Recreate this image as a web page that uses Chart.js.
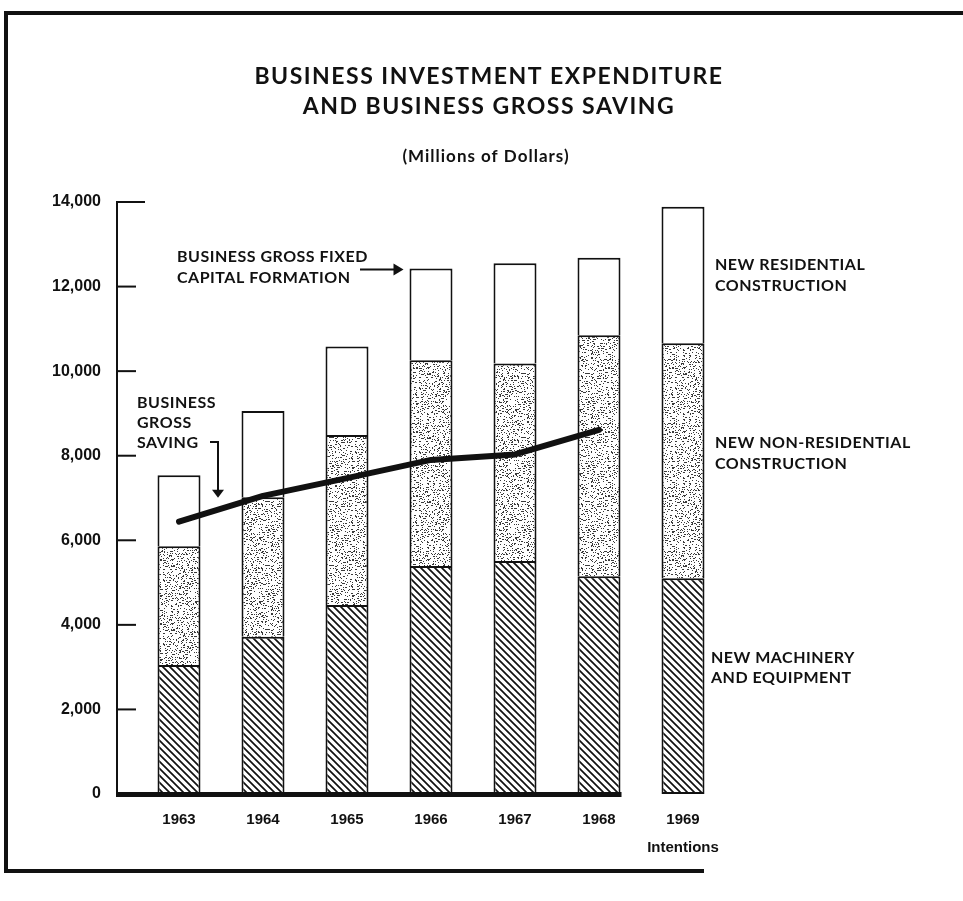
<!DOCTYPE html>
<html>
<head>
<meta charset="utf-8">
<title>Business Investment Expenditure and Business Gross Saving</title>
<script src="https://cdn.jsdelivr.net/npm/chart.js@4.4.1/dist/chart.umd.min.js"></script>
<style>
  html, body { margin: 0; padding: 0; background: #fff; }
  canvas { display: block; }
</style>
</head>
<body>
<canvas id="grafik" width="963" height="901"></canvas>
<script>
// =====================================================
// DATA (millions of dollars)
// =====================================================
const years = ["1963", "1964", "1965", "1966", "1967", "1968", ["1969", "Intentions"]];

// Stacked bar segments, bottom to top
const machineryEquipment = [3050, 3720, 4470, 5390, 5510, 5150, 5100];
const nonResidential     = [2810, 3300, 4020, 4870, 4670, 5700, 5560];
const residential        = [1680, 2040, 2090, 2170, 2370, 1830, 3230];

// Business gross saving line (no value for 1969)
const grossSaving = [6440, 7050, 7470, 7900, 8030, 8610, null];

// Y axis ticks
const yTicks = [0, 2000, 4000, 6000, 8000, 10000, 12000, 14000];

// =====================================================
// FONTS
// =====================================================
const FONT_LABEL = "Lato, 'DejaVu Sans', sans-serif";
const FONT_NUM = "'Liberation Sans', Arial, sans-serif";

// =====================================================
// PATTERNS: diagonal hatching and stipple dots
// =====================================================
function makeHatch() {
  const n = 7;
  const c = document.createElement("canvas");
  c.width = n; c.height = n;
  const g = c.getContext("2d");
  g.fillStyle = "#fff";
  g.fillRect(0, 0, n, n);
  g.strokeStyle = "#111";
  g.lineWidth = 1.7;
  g.beginPath();
  g.moveTo(-1, -1); g.lineTo(n + 1, n + 1);
  g.moveTo(-1, n - 1); g.lineTo(1, n + 1);
  g.moveTo(n - 1, -1); g.lineTo(n + 1, 1);
  g.stroke();
  return g.createPattern(c, "repeat");
}

function makeStipple() {
  const n = 64;
  const c = document.createElement("canvas");
  c.width = n; c.height = n;
  const g = c.getContext("2d");
  g.fillStyle = "#fff";
  g.fillRect(0, 0, n, n);
  g.fillStyle = "#3a3a3a";
  // deterministic grain (Park-Miller), one jittered dot per 2x2 cell
  let s = 4242;
  const next = () => (s = (s * 16807) % 2147483647) / 2147483647;
  for (let cy = 0; cy < n; cy += 2) {
    for (let cx = 0; cx < n; cx += 2) {
      if (next() < 0.62) {
        const x = cx + Math.floor(next() * 2);
        const y = cy + Math.floor(next() * 2);
        g.fillRect(x, y, next() < 0.2 ? 2 : 1, 1);
      }
    }
  }
  return g.createPattern(c, "repeat");
}

// =====================================================
// HELPER: text with letter spacing
// =====================================================
function text(ctx, str, x, y, font, align, spacing) {
  ctx.font = font;
  ctx.textAlign = align || "left";
  ctx.textBaseline = "middle";
  ctx.letterSpacing = spacing || "0px";
  ctx.fillStyle = "#111";
  ctx.fillText(str, x, y);
  ctx.letterSpacing = "0px";
}

// =====================================================
// PLUGIN: frame, title, custom y axis, x axis line, notes
// =====================================================
const decorPlugin = {
  id: "decor",
  beforeDraw(chart) {
    const ctx = chart.ctx;
    ctx.save();
    ctx.fillStyle = "#fff";
    ctx.fillRect(0, 0, chart.width, chart.height);

    // page frame
    ctx.fillStyle = "#111";
    ctx.fillRect(4, 11, 959, 4);
    ctx.fillRect(4, 11, 4, 862);
    ctx.fillRect(4, 869, 700, 4);

    // title block
    const lbl = "bold 23px " + FONT_LABEL;
    text(ctx, "BUSINESS INVESTMENT EXPENDITURE", 489, 77, lbl, "center", "1.5px");
    text(ctx, "AND BUSINESS GROSS SAVING", 489, 107, lbl, "center", "1.5px");
    text(ctx, "(Millions of Dollars)", 486, 157, "bold 17px " + FONT_LABEL, "center", "1px");
    ctx.restore();
  },
  afterDatasetsDraw(chart) {
    const ctx = chart.ctx;
    const xs = chart.scales.x;
    const ys = chart.scales.y;
    const area = chart.chartArea;
    const axisX = area.left - 20;
    const y0 = ys.getPixelForValue(0);
    ctx.save();
    ctx.fillStyle = "#111";
    ctx.strokeStyle = "#111";

    // y axis line + inside ticks + labels
    ctx.lineWidth = 2;
    ctx.beginPath();
    ctx.moveTo(axisX, ys.getPixelForValue(yTicks[yTicks.length - 1]) - 1);
    ctx.lineTo(axisX, y0);
    ctx.stroke();
    yTicks.forEach((v, i) => {
      const py = ys.getPixelForValue(v);
      if (v > 0) {
        const len = i === yTicks.length - 1 ? 28 : 19;
        ctx.beginPath();
        ctx.moveTo(axisX, py);
        ctx.lineTo(axisX + len, py);
        ctx.stroke();
      }
      text(ctx, v.toLocaleString("en-US"), axisX - 16, py, "bold 16px " + FONT_NUM, "right");
    });

    // heavy base line, stops at the 1968 bar
    const bar = chart.getDatasetMeta(0).data[5];
    const baseEnd = bar.x + bar.width / 2 + 1;
    ctx.fillRect(axisX - 1, y0 - 2, baseEnd - axisX + 1, 5);

    // right-hand legend notes
    const lbl = "bold 16px " + FONT_LABEL;
    const sp = "0.5px";
    text(ctx, "NEW RESIDENTIAL", 715, 265, lbl, "left", sp);
    text(ctx, "CONSTRUCTION", 715, 286, lbl, "left", sp);
    text(ctx, "NEW NON-RESIDENTIAL", 715, 443, lbl, "left", sp);
    text(ctx, "CONSTRUCTION", 715, 464, lbl, "left", sp);
    text(ctx, "NEW MACHINERY", 711, 658, lbl, "left", sp);
    text(ctx, "AND EQUIPMENT", 711, 678, lbl, "left", sp);

    // note: business gross fixed capital formation -> top of 1966 bar
    const bar66 = chart.getDatasetMeta(2).data[3];
    const tipX = bar66.x - bar66.width / 2 - 6;
    const tipY = bar66.y + 1;
    text(ctx, "BUSINESS GROSS FIXED", 177, 257, lbl, "left", sp);
    text(ctx, "CAPITAL FORMATION", 177, 278, lbl, "left", sp);
    ctx.lineWidth = 2;
    ctx.beginPath();
    ctx.moveTo(360, tipY);
    ctx.lineTo(tipX - 8, tipY);
    ctx.stroke();
    ctx.beginPath();
    ctx.moveTo(tipX, tipY);
    ctx.lineTo(tipX - 10, tipY - 6);
    ctx.lineTo(tipX - 10, tipY + 6);
    ctx.closePath();
    ctx.fill();

    // note: business gross saving, bracket arrow down to the line
    text(ctx, "BUSINESS", 137, 403, lbl, "left", sp);
    text(ctx, "GROSS", 137, 423, lbl, "left", sp);
    text(ctx, "SAVING", 137, 443, lbl, "left", sp);
    const sx = (xs.getPixelForValue(0) + xs.getPixelForValue(1)) / 2 - 3;
    const sy = ys.getPixelForValue(grossSaving[0]) - 24;
    ctx.beginPath();
    ctx.moveTo(210, 442);
    ctx.lineTo(sx, 442);
    ctx.lineTo(sx, sy - 7);
    ctx.stroke();
    ctx.beginPath();
    ctx.moveTo(sx, sy);
    ctx.lineTo(sx - 6, sy - 8);
    ctx.lineTo(sx + 6, sy - 8);
    ctx.closePath();
    ctx.fill();
    ctx.restore();
  }
};

// =====================================================
// CHART
// =====================================================
const hatch = makeHatch();
const stipple = makeStipple();
const barStyle = {
  borderColor: "#111",
  borderWidth: 2,
  barPercentage: 1,
  categoryPercentage: 0.512,
  order: 2,
  stack: "investment"
};

new Chart(document.getElementById("grafik"), {
  type: "bar",
  data: {
    labels: years,
    datasets: [
      // bottom segment keeps all four edges; upper ones skip their base
      Object.assign({ label: "New Machinery and Equipment", data: machineryEquipment, backgroundColor: hatch, borderSkipped: false }, barStyle),
      Object.assign({ label: "New Non-Residential Construction", data: nonResidential, backgroundColor: stipple, borderSkipped: "start" }, barStyle),
      Object.assign({ label: "New Residential Construction", data: residential, backgroundColor: "#fff", borderSkipped: "start" }, barStyle),
      {
        type: "line",
        label: "Business Gross Saving",
        data: grossSaving,
        borderColor: "#111",
        borderWidth: 6,
        borderCapStyle: "round",
        borderJoinStyle: "round",
        pointRadius: 0,
        tension: 0,
        spanGaps: false,
        order: 0,
        stack: "saving"
      }
    ]
  },
  options: {
    responsive: false,
    devicePixelRatio: 1,
    animation: false,
    layout: { padding: { left: 137, right: 238, top: 202, bottom: 0 } },
    plugins: {
      legend: { display: false },
      tooltip: { enabled: false }
    },
    scales: {
      x: {
        stacked: true,
        grid: { display: false, drawTicks: false },
        border: { display: false },
        ticks: {
          color: "#111",
          padding: 12,
          autoSkip: false,
          maxRotation: 0,
          font: { family: FONT_NUM, size: 15, weight: "bold", lineHeight: 1.85 }
        },
        afterFit(scale) { scale.height = 107; }
      },
      y: {
        display: false,
        stacked: true,
        min: 0,
        max: 14000
      }
    }
  },
  plugins: [decorPlugin]
});
</script>
</body>
</html>
